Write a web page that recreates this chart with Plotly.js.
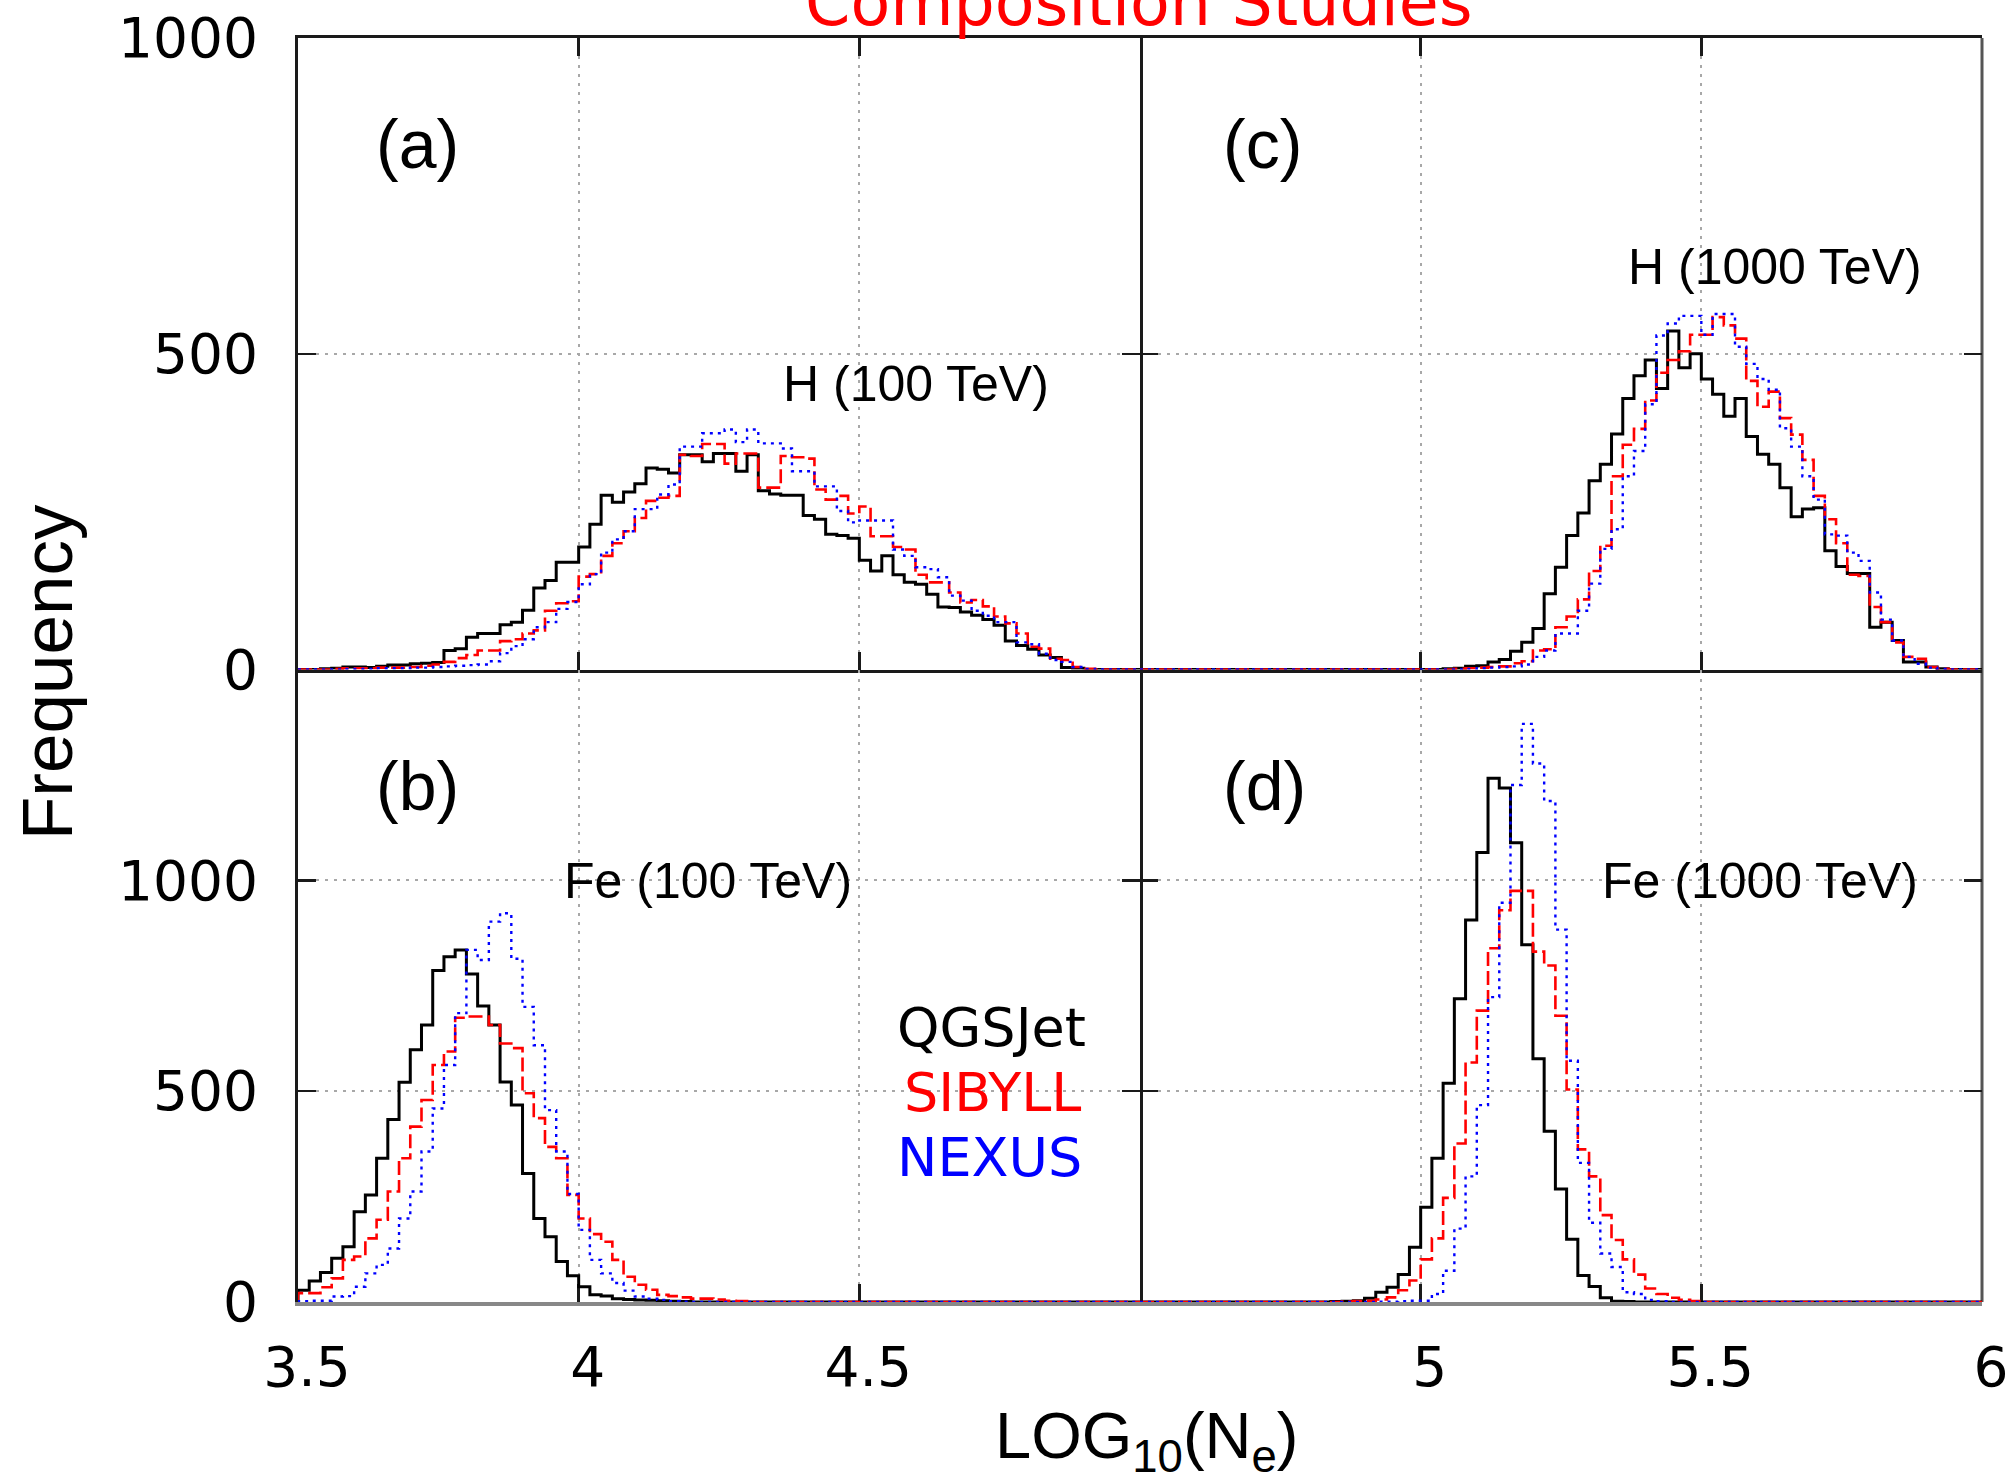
<!DOCTYPE html>
<html>
<head>
<meta charset="utf-8">
<script src="https://cdn.plot.ly/plotly-3.0.1.min.js"></script>
<style>
html,body{margin:0;padding:0;background:#fff;}
#chart{width:2012px;height:1477px;}
</style>
</head>
<body>
<div id="chart"></div>
<script>
// ---------------- DATA ----------------
const binWidth = 0.02;

// Panel (a): H (100 TeV), bins start at LOG10(Ne) = 3.50
const startA = 3.50;
const qgsA = [0,0,1,2,4,4,3,5,7,7,9,10,11,30,33,51,57,57,71,75,94,129,141,170,170,194,230,276,265,281,294,319,317,311,340,340,329,342,342,314,340,283,278,276,276,244,238,214,212,208,173,156,180,150,138,135,119,99,98,91,86,79,70,45,38,32,23,19,3,2,0];
const sibA = [0,0,0,1,2,2,2,3,3,3,4,6,8,12,18,23,30,30,45,48,57,62,93,105,108,147,151,180,200,219,240,267,272,275,340,338,357,357,326,342,342,288,288,338,336,334,285,269,275,247,258,211,211,194,190,150,138,138,122,106,110,100,84,73,57,36,33,17,15,4,1];
const nexA = [0,0,0,0,1,1,1,2,2,2,3,3,4,5,6,7,8,13,26,37,48,67,75,96,107,135,151,185,206,219,254,254,277,293,353,353,374,374,380,360,380,358,358,350,314,314,290,290,251,233,236,236,236,190,180,162,159,146,117,109,93,85,75,75,43,40,25,15,12,4,1];

// Panel (b): Fe (100 TeV), bins start at 3.50
const startB = 3.50;
const qgsB = [28,50,70,104,131,214,254,341,433,521,598,657,786,819,835,778,702,657,522,467,305,198,155,96,62,36,17,14,8,6,5,4,3,2,1,0];
const sibB = [21,21,35,56,100,108,151,195,262,341,416,479,562,594,674,677,677,657,613,602,495,436,368,341,254,198,161,143,100,60,41,29,17,14,11,8,8,6,3,2,0];
const nexB = [2,3,3,13,14,36,68,88,127,198,262,357,459,562,685,835,811,902,922,814,700,609,455,357,256,171,100,68,45,27,13,8,5,2,1,0];

// Panel (c): H (1000 TeV), bins start at 5.00
const startC = 5.00;
const qgsC = [0,0,1,2,5,6,12,16,29,43,65,120,162,212,248,299,325,373,429,465,490,445,536,478,500,460,436,401,429,369,341,325,288,242,254,256,188,163,152,152,67,75,46,12,12,4,1];
const sibC = [0,0,0,1,2,3,4,5,10,13,30,32,67,84,111,156,196,306,356,381,426,470,490,504,530,530,558,545,524,457,416,440,398,372,332,275,238,200,150,148,99,75,43,20,17,4,1];
const nexC = [0,0,0,0,1,2,3,4,5,8,20,30,57,57,93,136,191,222,306,346,420,529,548,560,560,530,563,563,511,484,460,443,382,353,306,269,214,212,185,172,122,79,46,20,9,3,1];

// Panel (d): Fe (1000 TeV), bins start at 4.84
const startD = 4.84;
const qgsD = [1,2,3,9,23,35,65,130,225,341,519,719,906,1066,1242,1219,1089,847,577,405,268,149,63,37,10,2,1,0];
const sibD = [0,1,2,3,6,11,28,51,101,151,247,376,568,691,839,929,975,975,831,798,679,504,362,298,206,147,101,65,32,19,10,5,2,0];
const nexD = [0,0,0,0,1,1,2,3,3,19,74,174,298,467,723,947,1226,1371,1277,1188,883,572,330,188,115,83,23,19,5,2,0];

const modelNames = ['QGSJet', 'SIBYLL', 'NEXUS'];
const panelLabels = ['(a)', '(b)', '(c)', '(d)'];
const panelTitles = ['H (100 TeV)', 'Fe (100 TeV)', 'H (1000 TeV)', 'Fe (1000 TeV)'];

const yTickValsUpper = [0, 500, 1000];
const yTickTextUpper = ['0', '500', '1000'];
const yTickValsLower = [0, 500, 1000];
const yTickTextLower = ['0', '500', '1000'];
const xTickValsLeft = [3.5, 4, 4.5];
const xTickTextLeft = ['3.5', '4', '4.5'];
const xTickValsRight = [5, 5.5, 6];
const xTickTextRight = ['5', '5.5', '6'];

// ---------------- STYLE / LAYOUT ----------------
const W = 2012, H = 1477;
const PL = 298, PM = 1140, PR = 1982;      // x pixel borders
const PT = 38, PMID = 669.5, PB = 1302;    // y pixel borders
const fx = p => p / W;
const fy = p => 1 - p / H;

const styles = [
  {color:'#000000', dash:'solid', width:3},
  {color:'#ff0000', dash:'14px,5px', width:2.6},
  {color:'#0000ff', dash:'3px,5px', width:2.4}
];

function stepTrace(start, vals, xa, ya, st, xmin, xmax, name) {
  const xs = [xmin], ys = [0];
  for (let i = 0; i < vals.length; i++) {
    xs.push(+(start + i * binWidth).toFixed(4));
    ys.push(vals[i]);
  }
  xs.push(+(start + vals.length * binWidth).toFixed(4)); ys.push(0);
  xs.push(xmax); ys.push(0);
  return {type:'scatter', mode:'lines', x:xs, y:ys, xaxis:xa, yaxis:ya, name:name,
          line:{shape:'hv', color:st.color, dash:st.dash, width:st.width},
          hoverinfo:'skip', showlegend:false};
}

const traces = [];
const panels = [
  {start:startA, series:[qgsA, sibA, nexA], xa:'x',  ya:'y',  xmin:3.5, xmax:5.0},
  {start:startB, series:[qgsB, sibB, nexB], xa:'x3', ya:'y3', xmin:3.5, xmax:5.0},
  {start:startC, series:[qgsC, sibC, nexC], xa:'x2', ya:'y2', xmin:4.5, xmax:6.0},
  {start:startD, series:[qgsD, sibD, nexD], xa:'x4', ya:'y4', xmin:4.5, xmax:6.0}
];
panels.forEach(p => {
  p.series.forEach((s, k) => traces.push(stepTrace(p.start, s, p.xa, p.ya, styles[k], p.xmin, p.xmax, modelNames[k])));
});

const FRAME = '#1a1a1a';
function axis(o) {
  return Object.assign({
    showline:true, linecolor:FRAME, linewidth:3, mirror:'ticks',
    ticks:'inside', ticklen:18, tickwidth:2.5, tickcolor:FRAME,
    showgrid:true, gridcolor:'#a8a8a8', gridwidth:2, griddash:'3px,6px',
    zeroline:false, fixedrange:true, layer:'below traces',
    tickfont:{family:'DejaVu Sans', size:55, color:'#000'},
    showticklabels:false
  }, o);
}

const dLeft = [fx(PL), fx(PM)], dRight = [fx(PM), fx(PR)];
const dUp = [fy(PMID), fy(PT)], dLow = [fy(PB), fy(PMID)];

const layout = {
  width:W, height:H, margin:{l:0, r:0, t:0, b:0},
  paper_bgcolor:'#ffffff', plot_bgcolor:'#ffffff', showlegend:false,
  xaxis:  axis({domain:dLeft,  range:[3.5, 5.0], anchor:'y',  tickvals:[4, 4.5]}),
  yaxis:  axis({domain:dUp,    range:[0, 1000],  anchor:'x',  tickvals:yTickValsUpper, ticktext:yTickTextUpper, showticklabels:true, ticklabelstandoff:26}),
  xaxis2: axis({domain:dRight, range:[4.5, 6.0], anchor:'y2', tickvals:[5, 5.5]}),
  yaxis2: axis({domain:dUp,    range:[0, 1000],  anchor:'x2', tickvals:[500], showline:false}),
  xaxis3: axis({domain:dLeft,  range:[3.5, 5.0], anchor:'y3', tickvals:xTickValsLeft, ticktext:xTickTextLeft, showticklabels:true,
                mirror:false, linecolor:'#888888', linewidth:4, ticklabelstandoff:14, ticklabelshift:9}),
  yaxis3: axis({domain:dLow,   range:[0, 1500],  anchor:'x3', tickvals:yTickValsLower, ticktext:yTickTextLower, showticklabels:true, ticklabelstandoff:26}),
  xaxis4: axis({domain:dRight, range:[4.5, 6.0], anchor:'y4', tickvals:xTickValsRight, ticktext:xTickTextRight, showticklabels:true,
                mirror:false, linecolor:'#888888', linewidth:4, ticklabelstandoff:14, ticklabelshift:9}),
  yaxis4: axis({domain:dLow,   range:[0, 1500],  anchor:'x4', tickvals:[500, 1000], showline:false}),
  shapes:[
    {type:'line', xref:'paper', yref:'paper', x0:fx(PR), x1:fx(PR), y0:fy(PB), y1:fy(PT),
     line:{color:'#555555', width:3}, layer:'below'}
  ],
  annotations:[]
};

function ann(text, xpx, basePx, size, color, family, xanchor) {
  return {text:text, xref:'paper', yref:'paper', x:fx(xpx), y:fy(basePx - 0.3465 * size),
          xanchor:xanchor || 'center', yanchor:'middle', showarrow:false,
          font:{family:family, size:size, color:color}};
}

const A = layout.annotations;
A.push(ann('Composition Studies', 1139, 25, 65, '#ff0000', 'DejaVu Sans'));
A.push(ann(panelLabels[0], 417, 168, 68, '#000', 'Liberation Sans'));
A.push(ann(panelLabels[1], 417, 810, 68, '#000', 'Liberation Sans'));
A.push(ann(panelLabels[2], 1262, 168, 68, '#000', 'Liberation Sans'));
A.push(ann(panelLabels[3], 1264, 810, 68, '#000', 'Liberation Sans'));
A.push(ann(panelTitles[0], 916, 401, 50, '#000', 'Liberation Sans'));
A.push(ann(panelTitles[1], 708, 898, 50, '#000', 'Liberation Sans'));
A.push(ann(panelTitles[2], 1775, 284, 50, '#000', 'Liberation Sans'));
A.push(ann(panelTitles[3], 1760, 898, 50, '#000', 'Liberation Sans'));
A.push(ann(modelNames[0], 1088, 1046, 54, '#000000', 'DejaVu Sans', 'right'));
A.push(ann(modelNames[1], 1083, 1111, 54, '#ff0000', 'DejaVu Sans', 'right'));
A.push(ann(modelNames[2], 1084, 1176, 54, '#0000ff', 'DejaVu Sans', 'right'));
A.push(ann('LOG<sub>10</sub>(N<sub>e</sub>)', 1146, 1463, 65, '#000', 'Liberation Sans'));
A.push({text:'Frequency', xref:'paper', yref:'paper', x:fx(47), y:fy(672), xanchor:'center', yanchor:'middle',
        textangle:-90, showarrow:false, font:{family:'Liberation Sans', size:71, color:'#000'}});

Plotly.newPlot('chart', traces, layout, {staticPlot:true, displayModeBar:false});
</script>
</body>
</html>
